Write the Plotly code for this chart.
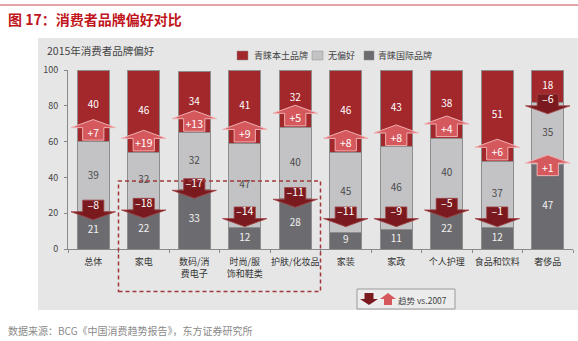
import plotly.graph_objects as go

# ---------------- data ----------------
categories = ["总体", "家电", "数码/消<br>费电子", "时尚/服<br>饰和鞋类", "护肤/化妆品",
              "家装", "家政", "个人护理", "食品和饮料", "奢侈品"]
intl = [21, 22, 33, 12, 28, 9, 11, 22, 12, 47]          # 青睐国际品牌
neutral = [39, 32, 32, 47, 40, 45, 46, 40, 37, 35]      # 无偏好
local = [40, 46, 34, 41, 32, 46, 43, 38, 51, 18]        # 青睐本土品牌
local_change = [7, 19, 13, 9, 5, 8, 8, 4, 6, -6]        # 趋势 vs.2007 (本土)
intl_change = [-8, -18, -17, -14, -11, -11, -9, -5, -1, 1]  # 趋势 vs.2007 (国际)
yticks = [0, 20, 40, 60, 80, 100]
series_names = ["青睐本土品牌", "无偏好", "青睐国际品牌"]

# ---------------- styles ----------------
FONT = "Noto Sans CJK SC"
RED = "#a2282c"
LIGHT = "#c3c3c6"
DARK = "#6c6c70"
UP_FILL = "#d5585d"
UP_LINE = "#f0b0b2"
DOWN_FILL = "#7a1a1e"
DOWN_LINE = "#a04448"
PANEL = "#e6e6e6"

W, H = 578, 341
L, R, T, B = 68, 5, 70, 92
PW, PH = W - L - R, H - T - B


def px(xp):
    return (xp - L) / PW


def py(yp):
    return (H - B - yp) / PH


n = len(categories)
xs = list(range(n))

fig = go.Figure()

# stacked bars
for vals, col, name in [(intl, DARK, series_names[2]), (neutral, LIGHT, series_names[1]),
                        (local, RED, series_names[0])]:
    fig.add_trace(go.Bar(x=xs, y=vals, marker=dict(color=col, line=dict(color="#8d8d8d", width=1)),
                         width=0.63, name=name, showlegend=False, hoverinfo="skip"))

# segment labels
lx, ly, lt, lc = [], [], [], []
for i in range(n):
    b0 = 0
    for vals, col in [(intl, "#f2f2f2"), (neutral, "#4a4a4a"), (local, "#ffffff")]:
        v = vals[i]
        lx.append(i)
        ly.append(b0 + v / 2)
        lt.append(str(v))
        lc.append(col)
        b0 += v
fig.add_trace(go.Scatter(x=lx, y=ly, text=lt, mode="text",
                         textfont=dict(family=FONT, size=10, color=lc),
                         showlegend=False, hoverinfo="skip"))

# arrows
HEAD_HALF, BODY_HALF = 0.44, 0.21
HEAD_H, BODY_H = 4.5, 7.0

ux, uy, dx, dy = [], [], [], []
atx, aty, att = [], [], []


def add_up(xc, apex, label):
    hb = apex - HEAD_H
    bb = hb - BODY_H
    ux.extend([xc, xc + HEAD_HALF, xc + BODY_HALF, xc + BODY_HALF, xc - BODY_HALF,
               xc - BODY_HALF, xc - HEAD_HALF, xc, None])
    uy.extend([apex, hb, hb, bb, bb, hb, hb, apex, None])
    atx.append(xc)
    aty.append((hb + bb) / 2)
    att.append(label)


def add_down(xc, apex, label):
    hb = apex + HEAD_H
    bt = hb + BODY_H - 0.5
    dx.extend([xc, xc + HEAD_HALF, xc + BODY_HALF, xc + BODY_HALF, xc - BODY_HALF,
               xc - BODY_HALF, xc - HEAD_HALF, xc, None])
    dy.extend([apex, hb, hb, bt, bt, hb, hb, apex, None])
    atx.append(xc)
    aty.append((hb + bt) / 2)
    att.append(label)


def fmt(v):
    return ("+%d" % v) if v > 0 else ("–%d" % abs(v))


for i in range(n):
    b_local = intl[i] + neutral[i]
    c = local_change[i]
    if c > 0:
        add_up(i, b_local + 12.3, fmt(c))
    else:
        add_down(i, b_local - 6.5, fmt(c))
    b_intl = intl[i]
    c = intl_change[i]
    if c < 0:
        add_down(i, max(b_intl - 4.7, 12.5), fmt(c))
    else:
        add_up(i, b_intl + 5.5, fmt(c))

fig.add_trace(go.Scatter(x=ux, y=uy, mode="lines", fill="toself", fillcolor=UP_FILL,
                         line=dict(color=UP_LINE, width=1), showlegend=False, hoverinfo="skip"))
fig.add_trace(go.Scatter(x=dx, y=dy, mode="lines", fill="toself", fillcolor=DOWN_FILL,
                         line=dict(color=DOWN_LINE, width=0.8), showlegend=False, hoverinfo="skip"))
fig.add_trace(go.Scatter(x=atx, y=aty, text=att, mode="text",
                         textfont=dict(family=FONT, size=10.5, color="#ffffff"),
                         showlegend=False, hoverinfo="skip"))

shapes = []
# panel background
shapes.append(dict(type="rect", xref="paper", yref="paper", x0=px(38), x1=px(580),
                   y0=py(310), y1=py(38), fillcolor=PANEL, line=dict(width=0), layer="below"))
# top red rule
shapes.append(dict(type="line", xref="paper", yref="paper", x0=px(0), x1=px(578),
                   y0=py(5), y1=py(5), line=dict(color="#d9868a", width=1.5)))
# dashed highlight box (categories 1..4)
shapes.append(dict(type="rect", xref="paper", yref="paper",
                   x0=(0.5 + 0.5) / n, x1=(4.5 + 0.5) / n, y0=py(291.5), y1=38 / 100,
                   line=dict(color="#a0383b", width=1.5, dash="4px,3px"), fillcolor="rgba(0,0,0,0)"))
# top legend squares
for x0, x1, col in [(237, 248, RED), (312, 323, LIGHT), (364, 374, DARK)]:
    shapes.append(dict(type="rect", xref="paper", yref="paper", x0=px(x0), x1=px(x1),
                       y0=py(60), y1=py(51), fillcolor=col, line=dict(color="#8d8d8d", width=0.5)))
# bottom legend box
shapes.append(dict(type="rect", xref="paper", yref="paper", x0=px(357), x1=px(455),
                   y0=py(309), y1=py(289), fillcolor="#ececec", line=dict(color="#9a9a9a", width=1)))


def poly_path(pts):
    return "M " + " L ".join("%.5f,%.5f" % (px(a), py(b)) for a, b in pts) + " Z"


# legend icon: down arrow
cx = 369
shapes.append(dict(type="path", xref="paper", yref="paper",
                   path=poly_path([(cx - 4.5, 293), (cx + 4.5, 293), (cx + 4.5, 299), (cx + 9, 299),
                                   (cx, 305), (cx - 9, 299), (cx - 4.5, 299)]),
                   fillcolor=DOWN_FILL, line=dict(width=0)))
# legend icon: up arrow
cx = 388
shapes.append(dict(type="path", xref="paper", yref="paper",
                   path=poly_path([(cx, 293), (cx + 8, 299), (cx + 4, 299), (cx + 4, 305),
                                   (cx - 4, 305), (cx - 4, 299), (cx - 8, 299)]),
                   fillcolor=UP_FILL, line=dict(width=0)))

annotations = []


def txt(x, y, s, size, color, bold=False, anchor="left"):
    annotations.append(dict(xref="paper", yref="paper", x=px(x), y=py(y), text=("<b>%s</b>" % s) if bold else s,
                            showarrow=False, xanchor=anchor, yanchor="middle",
                            font=dict(family=FONT, size=size, color=color)))


txt(6, 18.5, "图 17：消费者品牌偏好对比", 14, "#c0161c", bold=True)
txt(45, 50.5, "2015年消费者品牌偏好", 10.5, "#444444")
txt(252, 55.5, series_names[0], 9, "#444444")
txt(326, 55.5, series_names[1], 9, "#444444")
txt(376, 55.5, series_names[2], 9, "#444444")
txt(396, 299.5, "趋势 vs.2007", 8.5, "#444444")
txt(6, 330, "数据来源：BCG《中国消费趋势报告》，东方证券研究所", 10, "#8a8a8a")

fig.update_layout(
    width=W, height=H,
    margin=dict(l=L, r=R, t=T, b=B),
    paper_bgcolor="#ffffff", plot_bgcolor="rgba(0,0,0,0)",
    barmode="stack", bargap=0.37,
    showlegend=False,
    shapes=shapes, annotations=annotations,
    font=dict(family=FONT, color="#444444"),
    xaxis=dict(range=[-0.5, n - 0.5], tickmode="array", tickvals=xs, ticktext=categories,
               ticks="", showline=True, linecolor="#8a8a8a", linewidth=1, showgrid=False,
               zeroline=False, tickfont=dict(family=FONT, size=9, color="#333333"),
               ticklabelstandoff=4,
               minor=dict(tickmode="array", tickvals=[i - 0.5 for i in range(n + 1)],
                          ticks="outside", ticklen=3, tickcolor="#8a8a8a", showgrid=False)),
    yaxis=dict(range=[0, 100], tickmode="array", tickvals=yticks, ticks="outside", ticklen=3,
               tickcolor="#8a8a8a", showline=True, linecolor="#8a8a8a", linewidth=1,
               showgrid=False, zeroline=False, ticklabelstandoff=4,
               tickfont=dict(family=FONT, size=9, color="#444444")),
)

fig.write_html("out.html")
